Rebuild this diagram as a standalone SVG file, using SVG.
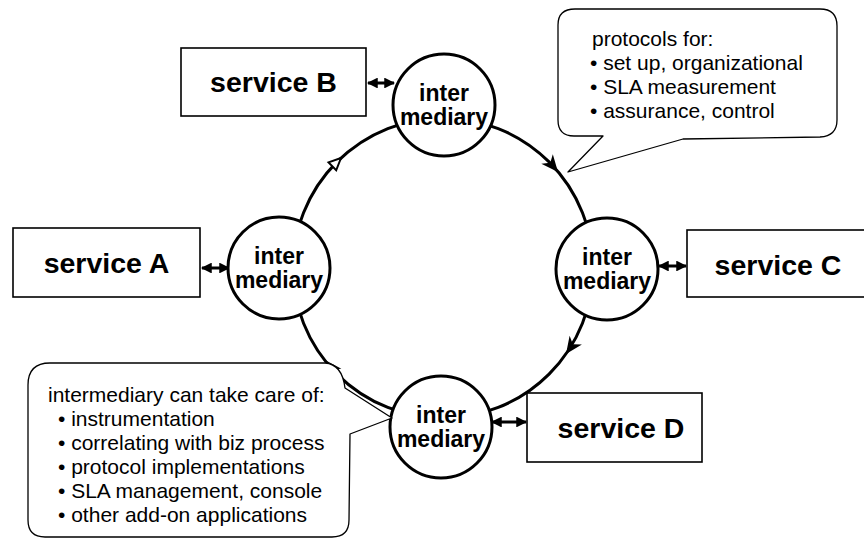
<svg xmlns="http://www.w3.org/2000/svg" xmlns:xlink="http://www.w3.org/1999/xlink" width="864" height="539" viewBox="0 0 864 539">
<style>
.box{fill:#fff;stroke:#000;stroke-width:1.6}
.im{fill:#fff;stroke:#000;stroke-width:3}
.ring{fill:none;stroke:#000;stroke-width:3}
.dbl{fill:none;stroke:#000;stroke-width:3}
.call{fill:#fff;stroke:#000;stroke-width:1.3;stroke-linejoin:round}
.svc{font-family:"Liberation Sans",Arial,sans-serif;font-weight:bold;font-size:28.5px;text-anchor:middle;fill:#000}
.imt{font-family:"Liberation Sans",Arial,sans-serif;font-weight:bold;font-size:23px;text-anchor:middle;fill:#000}
.ct{font-family:"Liberation Sans",Arial,sans-serif;font-size:21px;fill:#000}
</style>
<defs>
<path id="ah" d="M0,0 L-17,-7.5 L-12,0 L-17,7.5 Z" fill="#000"/>
<marker id="m2" viewBox="0 0 10 10" refX="9" refY="5" markerWidth="3.6" markerHeight="3.6" orient="auto-start-reverse" markerUnits="strokeWidth">
<path d="M0,0 L10,5 L0,10 Z" fill="#000"/>
</marker>
</defs>
<rect width="864" height="539" fill="#fff"/>
<g id="connectors">
<circle class="ring" cx="443" cy="268" r="150"/>
<use xlink:href="#ah" href="#ah" transform="translate(558,172) rotate(50)"/>
<use xlink:href="#ah" href="#ah" transform="translate(566,354) rotate(125)"/>
<use xlink:href="#ah" href="#ah" transform="translate(325,360) rotate(232)"/>
<path d="M0,0 L-12,-5.5 L-12,5.5 Z" fill="#fff" stroke="#000" stroke-width="2" transform="translate(341,158) rotate(-44)"/>
<line class="dbl" x1="368" y1="83" x2="394" y2="83" marker-start="url(#m2)" marker-end="url(#m2)"/>
<line class="dbl" x1="202" y1="268" x2="229" y2="268" marker-start="url(#m2)" marker-end="url(#m2)"/>
<line class="dbl" x1="659" y1="266" x2="686" y2="266" marker-start="url(#m2)" marker-end="url(#m2)"/>
<line class="dbl" x1="492" y1="422" x2="526" y2="422" marker-start="url(#m2)" marker-end="url(#m2)"/>
</g>
<g id="serviceB"><rect class="box" x="181" y="48" width="185" height="68"/><text class="svc" x="273.5" y="92">service B</text></g>
<g id="serviceA"><rect class="box" x="13" y="228" width="187" height="69"/><text class="svc" x="106.5" y="273">service A</text></g>
<g id="serviceC"><rect class="box" x="687" y="230" width="190" height="67"/><text class="svc" x="778" y="275">service C</text></g>
<g id="serviceD"><rect class="box" x="527" y="393" width="175" height="69"/><text class="svc" x="621" y="438">service D</text></g>
<g id="intermediaryTop"><circle class="im" cx="444" cy="105" r="51"/><text class="imt" x="444" y="101">inter</text><text class="imt" x="444" y="125">mediary</text></g>
<g id="intermediaryA"><circle class="im" cx="279" cy="268" r="51"/><text class="imt" x="279" y="264">inter</text><text class="imt" x="279" y="288">mediary</text></g>
<g id="intermediaryC"><circle class="im" cx="607" cy="269" r="51"/><text class="imt" x="607" y="265">inter</text><text class="imt" x="607" y="289">mediary</text></g>
<g id="intermediaryD"><circle class="im" cx="441" cy="427" r="51"/><text class="imt" x="441" y="423">inter</text><text class="imt" x="441" y="447">mediary</text></g>
<g id="calloutProtocols">
<path class="call" d="M575,9 L820,9 Q837,9 837,26 L837,120 Q837,136 820,137 L683,139 L568,172 L603,136 L574,136 Q558,136 558,120 L558,25 Q558,9 575,9 Z"/>
<text class="ct" x="592" y="46">protocols for:</text>
<text class="ct" x="590" y="70">• set up, organizational</text>
<text class="ct" x="590" y="94">• SLA measurement</text>
<text class="ct" x="590" y="118">• assurance, control</text>
</g>
<g id="calloutIntermediary">
<path class="call" d="M50,363 L325,363 Q342,364 345,388 L392,418 L350,434 L349,520 Q349,537 332,537 L45,537 Q28,537 28,520 L28,385 Q28,363 50,363 Z"/>
<text class="ct" x="48" y="402">intermediary can take care of:</text>
<text class="ct" x="58" y="426">• instrumentation</text>
<text class="ct" x="58" y="450">• correlating with biz process</text>
<text class="ct" x="58" y="474">• protocol implementations</text>
<text class="ct" x="58" y="498">• SLA management, console</text>
<text class="ct" x="58" y="522">• other add-on applications</text>
</g>
</svg>
